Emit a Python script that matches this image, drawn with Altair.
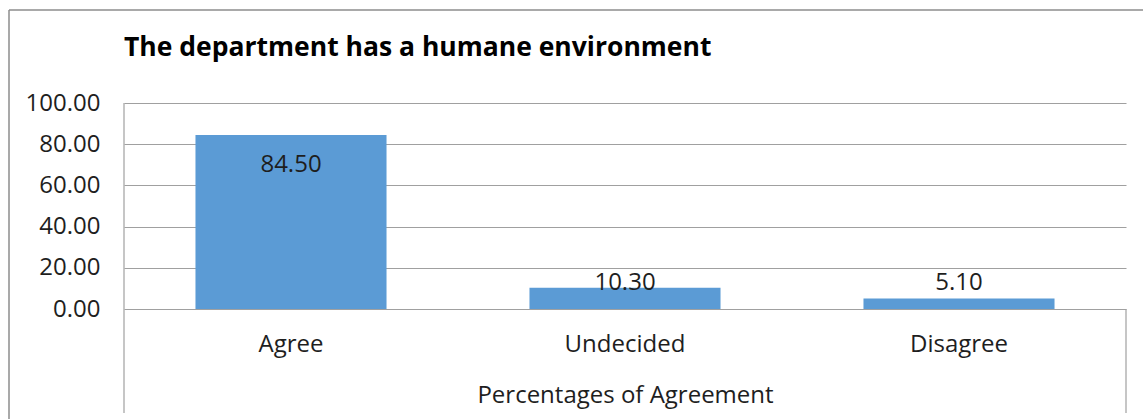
import altair as alt
import pandas as pd

# Survey responses: share of respondents per answer
categories = ["Agree", "Undecided", "Disagree"]
percentages = [84.50, 10.30, 5.10]
y_ticks = [0, 20, 40, 60, 80, 100]
chart_title = "The department has a humane environment"

df = pd.DataFrame({"category": categories, "percentage": percentages})
one = pd.DataFrame({"k": [0]})

FONT = "Open Sans"
BAR = "#5B9BD5"
GRID = "#A0A0A0"
FRAME = "#8C8C8C"
TEXT = "#1E1E1E"
FS = 24

W, H = 1002, 206
PAD = {"left": 124, "top": 103, "right": 17, "bottom": 110}

x = alt.X(
    "category:N",
    sort=categories,
    title="Percentages of Agreement",
    scale=alt.Scale(paddingInner=0.428, paddingOuter=0.214),
    axis=alt.Axis(
        labelAngle=0, ticks=False, domain=False,
        labelPadding=35, labelBaseline="middle",
        labelFont=FONT, labelFontSize=FS, labelColor=TEXT,
        titleFont=FONT, titleFontSize=FS, titleFontWeight="normal",
        titleColor=TEXT, titleY=86, titleBaseline="middle",
    ),
)
y = alt.Y(
    "percentage:Q",
    title=None,
    scale=alt.Scale(domain=[0, 100], nice=False),
    axis=alt.Axis(
        values=y_ticks, format=".2f", grid=True, gridColor=GRID, gridWidth=1.2,
        ticks=False, domain=False, labelPadding=24, labelBaseline="middle",
        labelFont=FONT, labelFontSize=FS, labelColor=TEXT,
    ),
)

bars = alt.Chart(df).mark_bar(color=BAR).encode(x=x, y=y)

# value labels: inside the tall bar, above the short ones
inside = alt.Chart(df).transform_filter("datum.percentage >= 50").mark_text(
    font=FONT, fontSize=FS, color=TEXT, baseline="middle", dy=30
).encode(x=alt.X("category:N", sort=categories), y="percentage:Q",
         text=alt.Text("percentage:Q", format=".2f"))

above = alt.Chart(df).transform_filter("datum.percentage < 50").transform_calculate(
    label_y="max(datum.percentage, 10.3)"
).mark_text(
    font=FONT, fontSize=FS, color=TEXT, baseline="middle", dy=-5
).encode(x=alt.X("category:N", sort=categories), y="label_y:Q",
         text=alt.Text("percentage:Q", format=".2f"))

# chart heading, left-aligned with the plot area
heading = alt.Chart(one).mark_text(
    text=chart_title, font=FONT, fontSize=26.5, fontWeight="bold",
    color="black", align="left", baseline="alphabetic",
).encode(x=alt.value(0), y=alt.value(-47))

# category axis bounds running down through the label area
left_line = alt.Chart(one).mark_rule(color=GRID, strokeWidth=1.2).encode(
    x=alt.value(0), y=alt.value(0), y2=alt.value(310))
right_line = alt.Chart(one).mark_rule(color=GRID, strokeWidth=1.2).encode(
    x=alt.value(W), y=alt.value(H), y2=alt.value(310))

# outer chart frame
frame_top = alt.Chart(one).mark_rule(color=FRAME, strokeWidth=1.5).encode(
    x=alt.value(-115), x2=alt.value(1019), y=alt.value(-93))
frame_left = alt.Chart(one).mark_rule(color=FRAME, strokeWidth=1.5).encode(
    x=alt.value(-115), y=alt.value(-93), y2=alt.value(316))

chart = alt.layer(
    bars, inside, above, heading, left_line, right_line, frame_top, frame_left
).properties(
    width=W,
    height=H,
    padding=PAD,
    autosize=alt.AutoSizeParams(type="none"),
    background="white",
).configure_view(stroke=None)

chart.save("out.html", embed_options={"renderer": "svg", "actions": False})
